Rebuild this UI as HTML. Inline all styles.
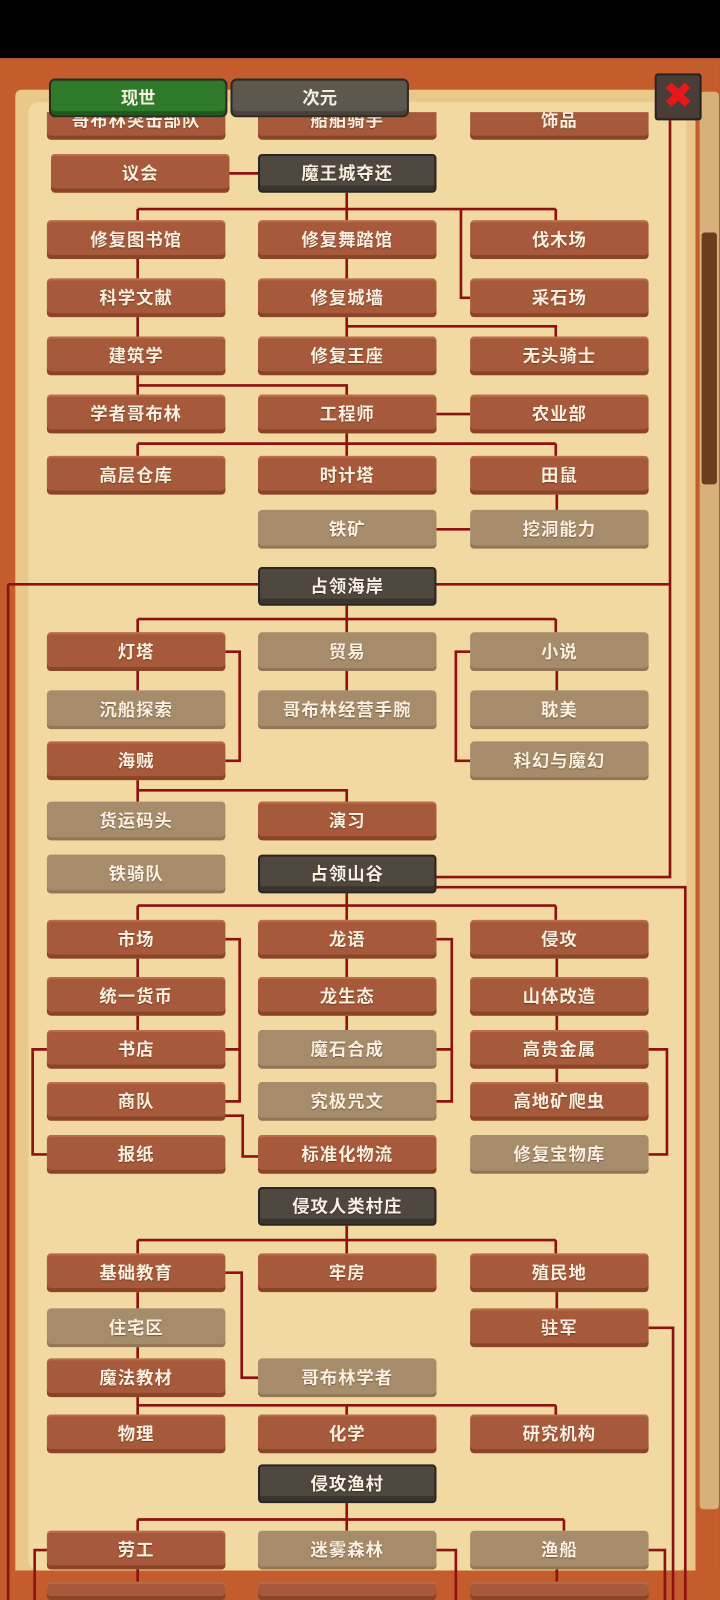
<!DOCTYPE html>
<html><head><meta charset="utf-8"><style>
*{margin:0;padding:0;box-sizing:border-box}
body{width:720px;height:1600px;overflow:hidden;background:#000;font-family:"Liberation Sans","Noto Sans CJK SC",sans-serif}
#w{position:absolute;left:0;top:0;width:706px;height:1569px;transform:scale(1.0198);transform-origin:0 0}
.frame{position:absolute;left:0;top:57px;width:706px;height:1512px;background:#c45c2c}
.parch{position:absolute;left:15px;top:88px;width:667px;height:1470px;background:#e9c88a;border-radius:6px}
.inner{position:absolute;left:28px;top:100px;width:645px;height:1440px;background:#f2d9a1;border-radius:10px}
#clip{position:absolute;left:0;top:110px;width:706px;height:1430px;overflow:hidden}
#c{position:absolute;left:0;top:-110px;width:706px;height:1569px}
.n{position:absolute;width:175px;height:38px;border-radius:4px;color:#fbefdf;font-size:17px;font-weight:bold;text-align:center;line-height:39px;text-shadow:0 1px 1px rgba(0,0,0,.35);letter-spacing:1px;overflow:hidden}
.b{background:#a65a3b;box-shadow:inset 0 -4px 0 #8a4528,inset 0 2px 0 #b86c4a}
.t{background:#a68c6b;box-shadow:inset 0 -3px 0 #927656}
.d{background:#4f4841;border:2px solid #2b2621;box-shadow:inset 0 -5px 0 #3a342e;line-height:35px}
.L{left:46px}.C{left:253px}.R{left:461px}
.tab{position:absolute;top:77px;height:38px;width:175px;border-radius:6px;color:#f4f0e0;font-size:17px;font-weight:bold;text-align:center;line-height:36px;border:2px solid #2c2a22}
.sb{position:absolute;left:686px;top:90px;width:19px;height:1390px;background:#d8b07a;border-radius:4px}
.th{position:absolute;left:688px;top:228px;width:15px;height:247px;background:#6b3d1e;border-radius:3px}
.bot{position:absolute;left:0;top:1540px;width:706px;height:29px;background:#c45c2c}
</style></head><body><div id="w">
<div class="frame"></div>
<div class="parch"></div>
<div class="inner"></div>
<div class="sb"></div><div class="th"></div>
<div id="clip"><div id="c">
<svg width="706" height="1569" style="position:absolute;left:0;top:0" fill="none" stroke="#8e1212" stroke-width="2.6">
<path d="M221 170H253M340 189V216M135 205H545M135 205V216M545 205V216M452 205V292H461
M135 254V273M340 254V273M135 311V330M340 311V330M340 320H545V330
M135 368V387M135 378H340V387M428 406H461M340 425V447M135 435H545M135 435V447M545 435V447
M546 485V500M428 519H461
M657 118V573M8 573H253M428 573H657M8 573V1569M657 573V860H428M428 870H672V1569
M340 594V620M135 607H545M135 607V620M545 607V620
M221 639H235V746H221M135 658V677M340 658V677M461 639H447V746H461M546 658V677
M135 765V786M135 775H340V786
M340 876V902M135 888H545M135 888V902M545 888V902
M221 921H235V1080H221M221 1029H235M428 921H443V1080H428M428 1029H443
M135 940V958M340 940V958M135 996V1010M340 996V1010M546 940V958M546 996V1010M546 1048V1061
M636 1029H654V1132H636M46 1029H32V1132H46M221 1094H238V1134H253
M340 1202V1229M135 1216H545M135 1216V1229M545 1216V1229
M221 1248H237V1351H253M135 1267V1283M135 1321V1332M546 1267V1283M636 1302H660V1569
M135 1370V1387M135 1378H545M340 1378V1387M545 1378V1387
M340 1474V1501M135 1490H553M135 1490V1501M553 1490V1501
M46 1520H34V1569M428 1520H447V1569M636 1520H652V1569M135 1539V1569M546 1539V1569"/>
</svg>
<div class="n b L" style="top:99px">哥布林突击部队</div><div class="n b C" style="top:99px">船舶骑手</div><div class="n b R" style="top:99px">饰品</div>
<div class="n b" style="left:50px;top:151px">议会</div><div class="n d C" style="top:151px">魔王城夺还</div>
<div class="n b L" style="top:216px">修复图书馆</div><div class="n b C" style="top:216px">修复舞踏馆</div><div class="n b R" style="top:216px">伐木场</div>
<div class="n b L" style="top:273px">科学文献</div><div class="n b C" style="top:273px">修复城墙</div><div class="n b R" style="top:273px">采石场</div>
<div class="n b L" style="top:330px">建筑学</div><div class="n b C" style="top:330px">修复王座</div><div class="n b R" style="top:330px">无头骑士</div>
<div class="n b L" style="top:387px">学者哥布林</div><div class="n b C" style="top:387px">工程师</div><div class="n b R" style="top:387px">农业部</div>
<div class="n b L" style="top:447px">高层仓库</div><div class="n b C" style="top:447px">时计塔</div><div class="n b R" style="top:447px">田鼠</div>
<div class="n t C" style="top:500px">铁矿</div><div class="n t R" style="top:500px">挖洞能力</div>
<div class="n d C" style="top:556px">占领海岸</div>
<div class="n b L" style="top:620px">灯塔</div><div class="n t C" style="top:620px">贸易</div><div class="n t R" style="top:620px">小说</div>
<div class="n t L" style="top:677px">沉船探索</div><div class="n t C" style="top:677px">哥布林经营手腕</div><div class="n t R" style="top:677px">耽美</div>
<div class="n b L" style="top:727px">海贼</div><div class="n t R" style="top:727px">科幻与魔幻</div>
<div class="n t L" style="top:786px">货运码头</div><div class="n b C" style="top:786px">演习</div>
<div class="n t L" style="top:838px">铁骑队</div><div class="n d C" style="top:838px">占领山谷</div>
<div class="n b L" style="top:902px">市场</div><div class="n b C" style="top:902px">龙语</div><div class="n b R" style="top:902px">侵攻</div>
<div class="n b L" style="top:958px">统一货币</div><div class="n b C" style="top:958px">龙生态</div><div class="n b R" style="top:958px">山体改造</div>
<div class="n b L" style="top:1010px">书店</div><div class="n t C" style="top:1010px">魔石合成</div><div class="n b R" style="top:1010px">高贵金属</div>
<div class="n b L" style="top:1061px">商队</div><div class="n t C" style="top:1061px">究极咒文</div><div class="n b R" style="top:1061px">高地矿爬虫</div>
<div class="n b L" style="top:1113px">报纸</div><div class="n b C" style="top:1113px">标准化物流</div><div class="n t R" style="top:1113px">修复宝物库</div>
<div class="n d C" style="top:1164px">侵攻人类村庄</div>
<div class="n b L" style="top:1229px">基础教育</div><div class="n b C" style="top:1229px">牢房</div><div class="n b R" style="top:1229px">殖民地</div>
<div class="n t L" style="top:1283px">住宅区</div><div class="n b R" style="top:1283px">驻军</div>
<div class="n b L" style="top:1332px">魔法教材</div><div class="n t C" style="top:1332px">哥布林学者</div>
<div class="n b L" style="top:1387px">物理</div><div class="n b C" style="top:1387px">化学</div><div class="n b R" style="top:1387px">研究机构</div>
<div class="n d C" style="top:1436px">侵攻渔村</div>
<div class="n b L" style="top:1501px">劳工</div><div class="n t C" style="top:1501px">迷雾森林</div><div class="n t R" style="top:1501px">渔船</div>
</div></div>
<div class="bot"></div>
<svg width="706" height="1569" style="position:absolute;left:0;top:0" fill="none" stroke="#8e1212" stroke-width="2.6">
<path d="M8 1540V1569M34 1540V1569M135 1540V1551M447 1540V1569M546 1540V1551M652 1540V1569M660 1540V1569M672 1540V1569"/></svg>
<div class="n b L" style="top:1551px;height:18px"></div><div class="n b C" style="top:1551px;height:18px"></div><div class="n b R" style="top:1551px;height:18px"></div>
<div class="tab" style="left:48px;background:#2f7a2a;box-shadow:inset 0 -4px 0 #1f5a1c">现世</div>
<div class="tab" style="left:226px;background:#5e574e;box-shadow:inset 0 -4px 0 #48423b">次元</div>
<div style="position:absolute;left:642px;top:72px;width:46px;height:46px;background:#4a3c36;border:2px solid #2a221e;border-radius:3px"></div>
<div style="position:absolute;left:648px;top:78px;width:34px;height:34px;color:#e81818;font-size:36px;line-height:34px;text-align:center;font-weight:bold;font-family:'DejaVu Sans',sans-serif">✖</div>
</div></body></html>
